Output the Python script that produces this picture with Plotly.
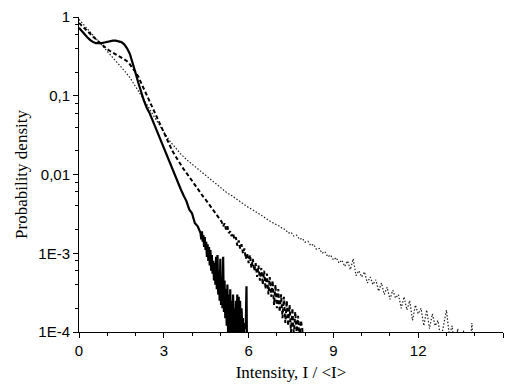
import plotly.graph_objects as go

# ---------------- data ----------------
solid_x = [0.0, 0.1, 0.2, 0.3, 0.4, 0.5, 0.6, 0.7, 0.8, 0.9,
           1.0, 1.1, 1.2, 1.3, 1.4, 1.5, 1.6, 1.7, 1.8, 1.9,
           2.0, 2.1, 2.2, 2.3, 2.4, 2.5, 2.6, 2.7, 2.8, 2.9,
           3.0, 3.1, 3.2, 3.3, 3.4, 3.5, 3.6, 3.7, 3.8, 3.9,
           4.0, 4.1, 4.2,
           4.300, 4.325, 4.350, 4.375, 4.400, 4.425, 4.450, 4.475, 4.500, 4.525,
           4.550, 4.575, 4.600, 4.625, 4.650, 4.675, 4.700, 4.725, 4.750, 4.775,
           4.800, 4.825, 4.850, 4.875, 4.900, 4.925, 4.950, 4.975, 5.000, 5.025,
           5.050, 5.075, 5.100, 5.125, 5.150, 5.175, 5.200, 5.225, 5.250, 5.275,
           5.300, 5.325, 5.350, 5.375, 5.400, 5.425, 5.450, 5.475, 5.500, 5.525,
           5.550, 5.575, 5.600, 5.625, 5.650, 5.675, 5.700, 5.725, 5.750, 5.775,
           5.800, 5.825, 5.850, 5.875, 5.900, 5.925, 5.950]
solid_y = [0.73, 0.66, 0.60, 0.55, 0.51, 0.48, 0.465, 0.46, 0.465, 0.475,
           0.485, 0.495, 0.50, 0.50, 0.495, 0.48, 0.45, 0.40, 0.34, 0.265,
           0.195, 0.145, 0.11, 0.086, 0.070, 0.060, 0.049, 0.040, 0.032, 0.026,
           0.0214, 0.0174, 0.0141, 0.0115, 0.0093, 0.0078, 0.0065, 0.0054, 0.0046, 0.0036,
           0.0032, 0.0024, 0.0022,
           1.8e-3, 1.5e-3, 1.9e-3, 1.4e-3, 1.7e-3, 1.2e-3, 1.6e-3, 1.1e-3, 1.4e-3, 0.9e-3,
           1.3e-3, 0.8e-3, 1.2e-3, 0.7e-3, 1.1e-3, 0.6e-3, 0.95e-3, 0.55e-3, 0.8e-3, 0.45e-3,
           0.75e-3, 0.4e-3, 0.9e-3, 0.35e-3, 0.95e-3, 0.3e-3, 0.6e-3, 0.25e-3, 0.85e-3, 0.22e-3,
           0.5e-3, 0.2e-3, 0.9e-3, 0.18e-3, 0.45e-3, 0.15e-3, 0.35e-3, 0.12e-3, 0.4e-3, 0.9e-4,
           0.3e-3, 0.5e-4, 0.35e-3, 0.11e-3, 0.25e-3, 0.4e-4, 0.3e-3, 0.12e-3, 0.2e-3, 0.3e-4,
           0.25e-3, 0.12e-3, 0.3e-3, 0.5e-4, 0.28e-3, 0.11e-3, 0.25e-3, 0.3e-4, 0.2e-3, 0.12e-3,
           0.15e-3, 0.5e-4, 0.13e-3, 0.11e-3, 0.12e-3, 0.38e-3, 0.3e-4]

dashed_x = [0.0, 0.1, 0.2, 0.3, 0.4, 0.5, 0.6, 0.7, 0.8, 0.9,
            1.0, 1.1, 1.2, 1.3, 1.4, 1.5, 1.6, 1.7, 1.8, 1.9,
            2.0, 2.1, 2.2, 2.3, 2.4, 2.5, 2.6, 2.7, 2.8, 2.9,
            3.0, 3.1, 3.2, 3.3, 3.4, 3.5, 3.6, 3.7, 3.8, 3.9,
            4.0, 4.1, 4.2, 4.3, 4.4, 4.5, 4.6, 4.7, 4.8, 4.9, 5.0,
            5.05, 5.10, 5.15, 5.20, 5.25, 5.30, 5.35, 5.40, 5.45, 5.50,
            5.55, 5.60, 5.65, 5.70, 5.75, 5.80, 5.85, 5.90, 5.95, 6.00,
            6.05, 6.10, 6.15, 6.20, 6.25, 6.30, 6.35, 6.40, 6.45, 6.50,
            6.55, 6.60, 6.65, 6.70, 6.75, 6.80, 6.85, 6.90, 6.95, 7.00,
            7.05, 7.10, 7.15, 7.20, 7.25, 7.30, 7.35, 7.40, 7.45, 7.50,
            7.55, 7.60, 7.65, 7.70, 7.75, 7.80, 7.85, 7.90, 7.95]
dashed_y = [0.84, 0.78, 0.72, 0.66, 0.61, 0.56, 0.52, 0.48, 0.45, 0.42,
            0.39, 0.37, 0.35, 0.335, 0.32, 0.305, 0.29, 0.275, 0.25, 0.226,
            0.20, 0.174, 0.145, 0.12, 0.10, 0.083, 0.069, 0.0575, 0.048, 0.040,
            0.033, 0.0275, 0.0234, 0.020, 0.0174, 0.0151, 0.0132, 0.0117, 0.0105, 0.0093,
            0.0083, 0.0074, 0.0066, 0.0059, 0.0052, 0.0047, 0.0042, 0.0037, 0.0033, 0.0030, 0.0026,
            2.5e-3, 2.2e-3, 2.4e-3, 2.0e-3, 2.2e-3, 1.8e-3, 1.9e-3, 1.65e-3, 1.8e-3, 1.5e-3,
            1.6e-3, 1.25e-3, 1.45e-3, 1.15e-3, 1.3e-3, 1.0e-3, 1.15e-3, 0.85e-3, 1.0e-3, 0.75e-3,
            0.95e-3, 0.65e-3, 0.85e-3, 0.6e-3, 0.75e-3, 0.5e-3, 0.7e-3, 0.45e-3, 0.65e-3, 0.4e-3,
            0.6e-3, 0.35e-3, 0.55e-3, 0.3e-3, 0.5e-3, 0.28e-3, 0.45e-3, 0.22e-3, 0.4e-3, 0.2e-3,
            0.35e-3, 0.18e-3, 0.3e-3, 0.15e-3, 0.28e-3, 0.13e-3, 0.25e-3, 0.12e-3, 0.22e-3, 0.1e-3,
            0.2e-3, 0.09e-3, 0.18e-3, 0.1e-3, 0.16e-3, 0.08e-3, 0.14e-3, 0.11e-3, 0.05e-3]

dotted_x = [0.0, 0.2, 0.4, 0.6, 0.8, 1.0, 1.2, 1.4, 1.6, 1.8,
            2.0, 2.2, 2.4, 2.6, 2.8, 3.0, 3.2, 3.4, 3.6, 3.8,
            4.0, 4.2, 4.4, 4.6, 4.8, 5.0, 5.2, 5.4, 5.6, 5.8,
            6.0, 6.2, 6.4, 6.6, 6.8, 7.0,
            7.1, 7.2, 7.3, 7.4, 7.5, 7.6, 7.7, 7.8, 7.9, 8.0,
            8.1, 8.2, 8.3, 8.4, 8.5, 8.6, 8.7, 8.8, 8.9, 9.0,
            9.1, 9.2, 9.3, 9.4, 9.5, 9.6, 9.7, 9.8, 9.9, 10.0,
            10.1, 10.2, 10.3, 10.4, 10.5, 10.6, 10.7, 10.8, 10.9, 11.0,
            11.1, 11.2, 11.3, 11.4, 11.5, 11.6, 11.7, 11.8, 11.9, 12.0,
            12.1, 12.2, 12.3, 12.4, 12.5, 12.6, 12.7, 12.8, 12.9, 13.0,
            13.1, 13.2, 13.3, 13.4, 13.5, 13.6, 13.7, 13.8, 13.9, 14.0]
dotted_y = [0.933, 0.776, 0.646, 0.537, 0.447, 0.372, 0.309, 0.257, 0.209, 0.170,
            0.132, 0.102, 0.0776, 0.0589, 0.0447, 0.0347, 0.0269, 0.0219, 0.0182, 0.0155,
            0.0135, 0.0117, 0.0102, 0.0089, 0.0078, 0.0068, 0.0060, 0.0054, 0.0048, 0.0043,
            0.0038, 0.00347, 0.0031, 0.0028, 0.0025, 0.0023,
            2.2e-3, 2.05e-3, 2.0e-3, 1.8e-3, 1.85e-3, 1.65e-3, 1.7e-3, 1.5e-3, 1.55e-3, 1.38e-3,
            1.42e-3, 1.25e-3, 1.3e-3, 1.12e-3, 1.15e-3, 1.0e-3, 1.05e-3, 0.9e-3, 0.95e-3, 0.82e-3,
            0.88e-3, 0.75e-3, 0.82e-3, 0.68e-3, 0.8e-3, 0.62e-3, 0.85e-3, 0.52e-3, 0.6e-3, 0.5e-3,
            0.58e-3, 0.42e-3, 0.5e-3, 0.4e-3, 0.46e-3, 0.33e-3, 0.42e-3, 0.3e-3, 0.37e-3, 0.26e-3,
            0.34e-3, 0.27e-3, 0.3e-3, 0.2e-3, 0.28e-3, 0.19e-3, 0.25e-3, 0.14e-3, 0.22e-3, 0.17e-3,
            0.2e-3, 0.12e-3, 0.19e-3, 0.11e-3, 0.17e-3, 0.12e-3, 0.14e-3, 0.8e-4, 0.13e-3, 0.19e-3,
            0.9e-4, 0.12e-3, 0.6e-4, 0.11e-3, 0.5e-4, 0.105e-3, 0.4e-4, 0.5e-4, 0.13e-3, 0.3e-4]

x_ticks = [0, 3, 6, 9, 12, 15]
x_minor = [1, 2, 4, 5, 7, 8, 10, 11, 13, 14]
y_ticks = [1, 0.1, 0.01, 1e-3, 1e-4]
y_ticktext = ["1", "0,1", "0,01", "1E-3", "1E-4"]
y_minor = [2e-4, 4e-4, 6e-4, 8e-4, 2e-3, 4e-3, 6e-3, 8e-3,
           2e-2, 4e-2, 6e-2, 8e-2, 0.2, 0.4, 0.6, 0.8]

# ---------------- figure ----------------
fig = go.Figure()
fig.add_trace(go.Scatter(x=dotted_x, y=dotted_y, mode="lines",
                         line=dict(color="#222", width=1.2, dash="1.5px,1.8px")))
fig.add_trace(go.Scatter(x=dashed_x, y=dashed_y, mode="lines",
                         line=dict(color="black", width=2, dash="4px,2.5px")))
fig.add_trace(go.Scatter(x=solid_x, y=solid_y, mode="lines",
                         line=dict(color="black", width=2.2)))

tickfont = dict(family="Liberation Sans, Arial, sans-serif", size=15, color="black")
titlefont = dict(family="Liberation Serif, Times New Roman, serif", size=17, color="black")

fig.update_layout(
    width=509, height=390,
    margin=dict(l=79, r=6, t=17, b=58),
    paper_bgcolor="white", plot_bgcolor="white",
    showlegend=False,
    xaxis=dict(range=[0, 15], tickmode="array", tickvals=x_ticks,
               ticks="outside", ticklen=5, tickwidth=1, tickcolor="black",
               showline=True, linecolor="black", linewidth=1,
               showgrid=False, zeroline=False, tickfont=tickfont,
               minor=dict(tickmode="array", tickvals=x_minor, ticks="outside",
                          ticklen=3, tickwidth=1, tickcolor="black", showgrid=False),
               title=dict(text="Intensity, I / &lt;I&gt;", font=titlefont, standoff=8)),
    yaxis=dict(type="log", range=[-4, 0], tickmode="array",
               tickvals=y_ticks, ticktext=y_ticktext,
               ticks="outside", ticklen=5, tickwidth=1, tickcolor="black",
               showline=True, linecolor="black", linewidth=1,
               showgrid=False, zeroline=False, tickfont=tickfont,
               minor=dict(tickmode="array", tickvals=y_minor, ticks="outside",
                          ticklen=3, tickwidth=1, tickcolor="black", showgrid=False),
               title=dict(text="Probability density", font=titlefont, standoff=6)),
)

fig.write_html("out.html")
